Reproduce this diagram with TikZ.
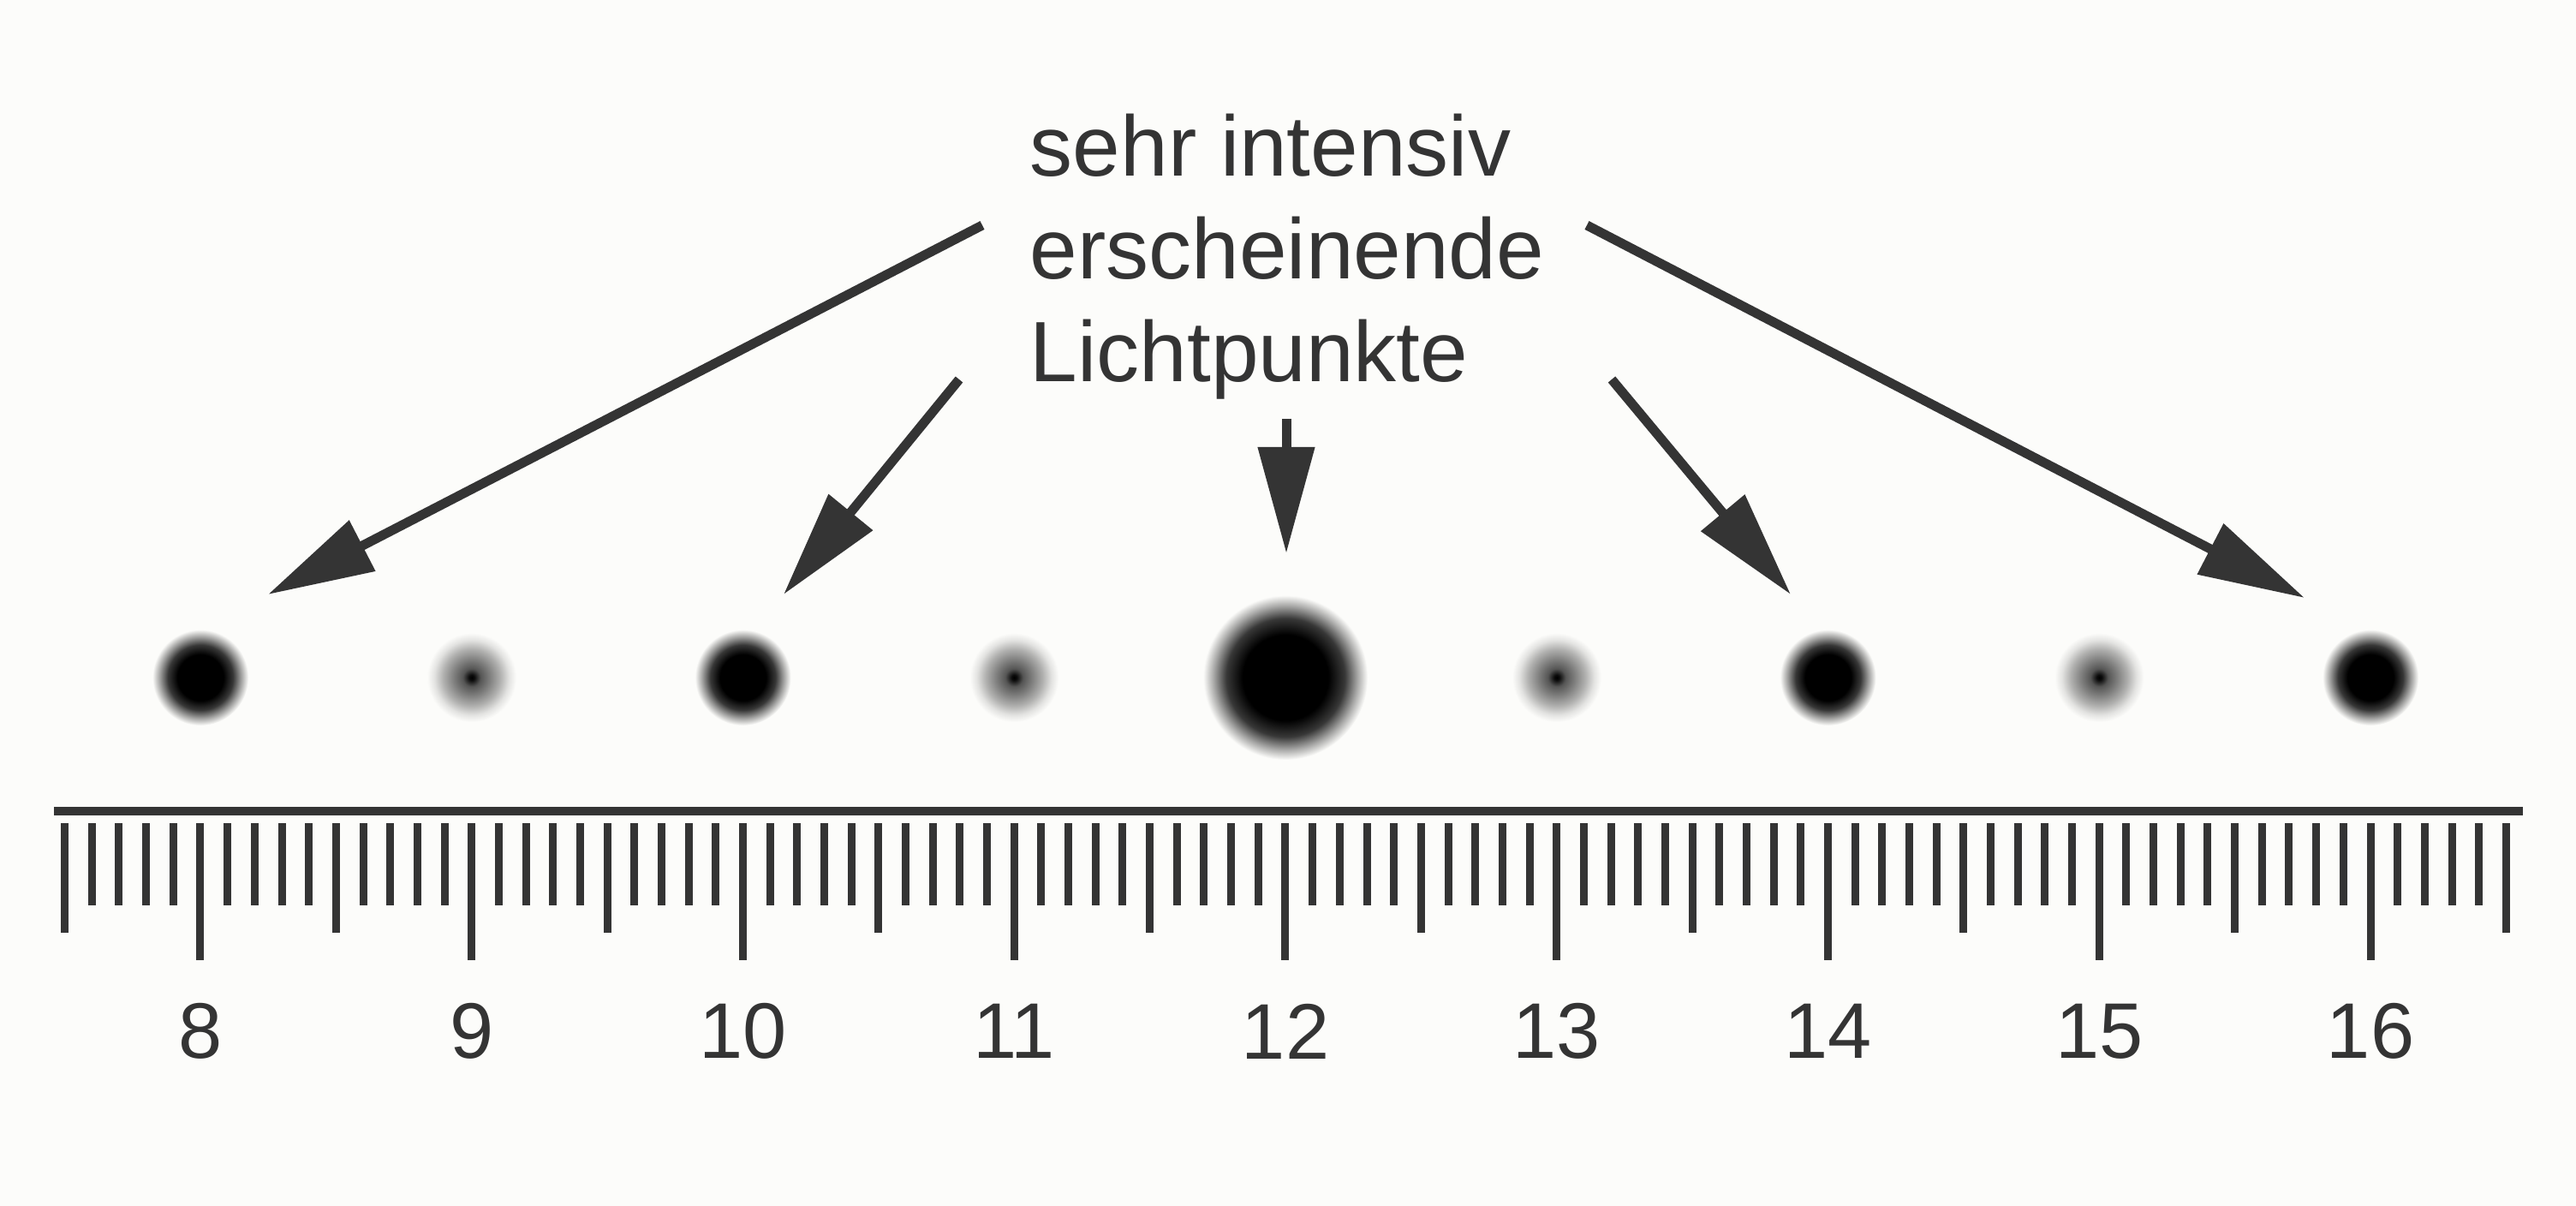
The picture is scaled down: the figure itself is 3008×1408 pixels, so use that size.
\documentclass[tikz,border=0pt]{standalone}
\usepackage{fontspec}
\setmainfont{Liberation Sans}
\usepackage{xcolor}
\usepackage{tikz}
\usetikzlibrary{arrows.meta}

\definecolor{bg}{RGB}{252,252,250}
\definecolor{ink}{RGB}{52,52,52}

\pgfdeclareradialshading{darkspot}{\pgfpoint{0bp}{0bp}}{color(0bp)=(black); color(12bp)=(black); color(17bp)=(black!78!bg); color(21bp)=(black!38!bg); color(25bp)=(bg); color(50bp)=(bg)}
\pgfdeclareradialshading{lightspot}{\pgfpoint{0bp}{0bp}}{color(0bp)=(black); color(1.5bp)=(black!95!bg); color(5bp)=(black!66!bg); color(10bp)=(black!50!bg); color(16bp)=(black!30!bg); color(21bp)=(black!10!bg); color(25bp)=(bg); color(50bp)=(bg)}
\pgfdeclareradialshading{bigspot}{\pgfpoint{0bp}{0bp}}{color(0bp)=(black); color(13bp)=(black); color(18bp)=(black!78!bg); color(22bp)=(black!32!bg); color(25bp)=(bg); color(50bp)=(bg)}

\tikzset{
  pointer/.style={draw=ink, line width=2.75pt, -{Triangle[length=31pt,width=16pt,fill=ink]}},
  tick/.style={draw=ink, line width=2.25pt},
  numlabel/.style={text=ink, inner sep=0pt, font=\fontsize{23}{27}\selectfont},
  spot/.style={circle, inner sep=0pt, draw=none}
}

\begin{document}
\begin{tikzpicture}[x=0.25pt,y=0.25pt,yscale=-1,xscale=1]
%background, 3008 x 1408
\fill[bg] (0,0) rectangle (3008,1408);
\useasboundingbox (0,0) rectangle (3008,1408);

% Text Node
\node (caption) [anchor=north west, inner sep=0pt, align=left, text=ink, font=\fontsize{25}{30}\selectfont] at (1202,132) {sehr intensiv\\ erscheinende\\ Lichtpunkte};

%Shape: Light spots
\foreach \n/\kind/\d in {8/darkspot/28pt,9/lightspot/26pt,10/darkspot/28pt,11/lightspot/26pt,12/bigspot/48pt,13/lightspot/26pt,14/darkspot/28pt,15/lightspot/26pt,16/darkspot/28pt}
  \node (p\n) [spot, shading=\kind, minimum size=\d] at ({234+316.75*(\n-8)},791) {};

%Straight Lines: ruler
\draw [draw=ink, line width=2.5pt] (63,947) -- (2946,947);
\foreach \i in {0,...,90}{
  \pgfmathsetmacro{\tx}{75.6+31.675*\i}
  \pgfmathtruncatemacro{\m}{mod(\i,10)}
  \ifnum\m=5 \def\tl{1121}\else\ifnum\m=0 \def\tl{1089}\else\def\tl{1057}\fi\fi
  \draw [tick] (\tx,961) -- (\tx,\tl);
}

% Text Node: scale numbers
\foreach \n in {8,...,16}
  \node (l\n) [numlabel] at ({234+316.75*(\n-8)},1204) {\n};

%Straight Lines: arrows
\coordinate (s8) at (1147,263);   \coordinate (e8) at (313,694);
\coordinate (s10) at (1120,443);  \coordinate (e10) at (915,694);
\coordinate (s12) at (1502,489);  \coordinate (e12) at (1502,646);
\coordinate (s14) at (1882,443);  \coordinate (e14) at (2091,694);
\coordinate (s16) at (1853,263);  \coordinate (e16) at (2691,698);
\foreach \n in {8,10,12,14,16}
  \draw [pointer] (s\n) -- (e\n);
\end{tikzpicture}
\end{document}
